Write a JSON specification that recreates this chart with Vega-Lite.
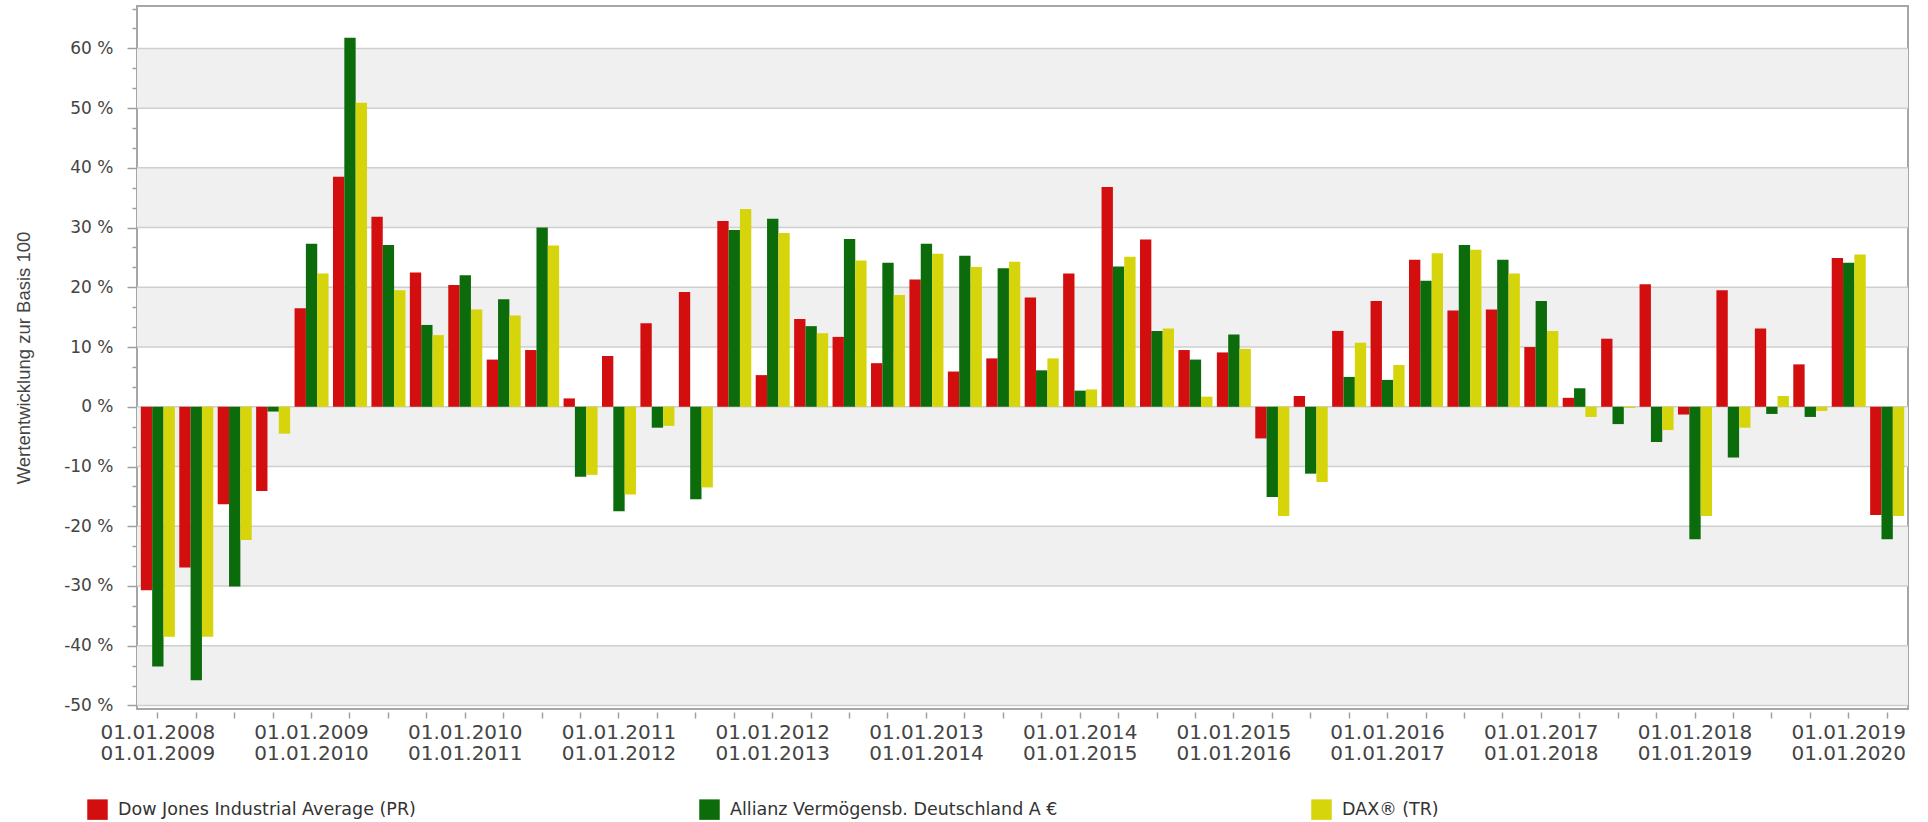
{
  "$schema": "https://vega.github.io/schema/vega-lite/v6.json",
  "width": 1771,
  "height": 703,
  "autosize": {"type": "none"},
  "padding": {"left": 137, "top": 6, "right": 20, "bottom": 113},
  "background": "white",
  "config": {
    "view": {"stroke": "#a6a6a6", "strokeWidth": 2},
    "font": "DejaVu Sans"
  },
  "datasets": {
    "bands": [
      {"lo": 50, "hi": 60}, {"lo": 30, "hi": 40}, {"lo": 10, "hi": 20},
      {"lo": -10, "hi": 0}, {"lo": -30, "hi": -20}, {"lo": -50, "hi": -40}
    ],
    "grid": [
      {"g": -50}, {"g": -40}, {"g": -30}, {"g": -20}, {"g": -10}, {"g": 0},
      {"g": 10}, {"g": 20}, {"g": 30}, {"g": 40}, {"g": 50}, {"g": 60}
    ],
    "perf": [
      {"p": "01.01.2008|01.01.2009", "s": "Dow Jones Industrial Average (PR)", "v": -30.7},
      {"p": "01.01.2008|01.01.2009", "s": "Allianz Vermögensb. Deutschland A €", "v": -43.5},
      {"p": "01.01.2008|01.01.2009", "s": "DAX® (TR)", "v": -38.5},
      {"p": "01.04.2008|01.04.2009", "s": "Dow Jones Industrial Average (PR)", "v": -26.9},
      {"p": "01.04.2008|01.04.2009", "s": "Allianz Vermögensb. Deutschland A €", "v": -45.8},
      {"p": "01.04.2008|01.04.2009", "s": "DAX® (TR)", "v": -38.5},
      {"p": "01.07.2008|01.07.2009", "s": "Dow Jones Industrial Average (PR)", "v": -16.3},
      {"p": "01.07.2008|01.07.2009", "s": "Allianz Vermögensb. Deutschland A €", "v": -30.1},
      {"p": "01.07.2008|01.07.2009", "s": "DAX® (TR)", "v": -22.3},
      {"p": "01.10.2008|01.10.2009", "s": "Dow Jones Industrial Average (PR)", "v": -14.1},
      {"p": "01.10.2008|01.10.2009", "s": "Allianz Vermögensb. Deutschland A €", "v": -0.8},
      {"p": "01.10.2008|01.10.2009", "s": "DAX® (TR)", "v": -4.5},
      {"p": "01.01.2009|01.01.2010", "s": "Dow Jones Industrial Average (PR)", "v": 16.5},
      {"p": "01.01.2009|01.01.2010", "s": "Allianz Vermögensb. Deutschland A €", "v": 27.3},
      {"p": "01.01.2009|01.01.2010", "s": "DAX® (TR)", "v": 22.3},
      {"p": "01.04.2009|01.04.2010", "s": "Dow Jones Industrial Average (PR)", "v": 38.5},
      {"p": "01.04.2009|01.04.2010", "s": "Allianz Vermögensb. Deutschland A €", "v": 61.8},
      {"p": "01.04.2009|01.04.2010", "s": "DAX® (TR)", "v": 50.9},
      {"p": "01.07.2009|01.07.2010", "s": "Dow Jones Industrial Average (PR)", "v": 31.8},
      {"p": "01.07.2009|01.07.2010", "s": "Allianz Vermögensb. Deutschland A €", "v": 27.1},
      {"p": "01.07.2009|01.07.2010", "s": "DAX® (TR)", "v": 19.5},
      {"p": "01.10.2009|01.10.2010", "s": "Dow Jones Industrial Average (PR)", "v": 22.5},
      {"p": "01.10.2009|01.10.2010", "s": "Allianz Vermögensb. Deutschland A €", "v": 13.7},
      {"p": "01.10.2009|01.10.2010", "s": "DAX® (TR)", "v": 12.0},
      {"p": "01.01.2010|01.01.2011", "s": "Dow Jones Industrial Average (PR)", "v": 20.4},
      {"p": "01.01.2010|01.01.2011", "s": "Allianz Vermögensb. Deutschland A €", "v": 22.0},
      {"p": "01.01.2010|01.01.2011", "s": "DAX® (TR)", "v": 16.3},
      {"p": "01.04.2010|01.04.2011", "s": "Dow Jones Industrial Average (PR)", "v": 7.9},
      {"p": "01.04.2010|01.04.2011", "s": "Allianz Vermögensb. Deutschland A €", "v": 18.0},
      {"p": "01.04.2010|01.04.2011", "s": "DAX® (TR)", "v": 15.3},
      {"p": "01.07.2010|01.07.2011", "s": "Dow Jones Industrial Average (PR)", "v": 9.5},
      {"p": "01.07.2010|01.07.2011", "s": "Allianz Vermögensb. Deutschland A €", "v": 30.0},
      {"p": "01.07.2010|01.07.2011", "s": "DAX® (TR)", "v": 27.0},
      {"p": "01.10.2010|01.10.2011", "s": "Dow Jones Industrial Average (PR)", "v": 1.4},
      {"p": "01.10.2010|01.10.2011", "s": "Allianz Vermögensb. Deutschland A €", "v": -11.7},
      {"p": "01.10.2010|01.10.2011", "s": "DAX® (TR)", "v": -11.4},
      {"p": "01.01.2011|01.01.2012", "s": "Dow Jones Industrial Average (PR)", "v": 8.5},
      {"p": "01.01.2011|01.01.2012", "s": "Allianz Vermögensb. Deutschland A €", "v": -17.5},
      {"p": "01.01.2011|01.01.2012", "s": "DAX® (TR)", "v": -14.7},
      {"p": "01.04.2011|01.04.2012", "s": "Dow Jones Industrial Average (PR)", "v": 14.0},
      {"p": "01.04.2011|01.04.2012", "s": "Allianz Vermögensb. Deutschland A €", "v": -3.5},
      {"p": "01.04.2011|01.04.2012", "s": "DAX® (TR)", "v": -3.2},
      {"p": "01.07.2011|01.07.2012", "s": "Dow Jones Industrial Average (PR)", "v": 19.2},
      {"p": "01.07.2011|01.07.2012", "s": "Allianz Vermögensb. Deutschland A €", "v": -15.5},
      {"p": "01.07.2011|01.07.2012", "s": "DAX® (TR)", "v": -13.5},
      {"p": "01.10.2011|01.10.2012", "s": "Dow Jones Industrial Average (PR)", "v": 31.1},
      {"p": "01.10.2011|01.10.2012", "s": "Allianz Vermögensb. Deutschland A €", "v": 29.6},
      {"p": "01.10.2011|01.10.2012", "s": "DAX® (TR)", "v": 33.1},
      {"p": "01.01.2012|01.01.2013", "s": "Dow Jones Industrial Average (PR)", "v": 5.3},
      {"p": "01.01.2012|01.01.2013", "s": "Allianz Vermögensb. Deutschland A €", "v": 31.5},
      {"p": "01.01.2012|01.01.2013", "s": "DAX® (TR)", "v": 29.1},
      {"p": "01.04.2012|01.04.2013", "s": "Dow Jones Industrial Average (PR)", "v": 14.7},
      {"p": "01.04.2012|01.04.2013", "s": "Allianz Vermögensb. Deutschland A €", "v": 13.5},
      {"p": "01.04.2012|01.04.2013", "s": "DAX® (TR)", "v": 12.3},
      {"p": "01.07.2012|01.07.2013", "s": "Dow Jones Industrial Average (PR)", "v": 11.7},
      {"p": "01.07.2012|01.07.2013", "s": "Allianz Vermögensb. Deutschland A €", "v": 28.1},
      {"p": "01.07.2012|01.07.2013", "s": "DAX® (TR)", "v": 24.5},
      {"p": "01.10.2012|01.10.2013", "s": "Dow Jones Industrial Average (PR)", "v": 7.3},
      {"p": "01.10.2012|01.10.2013", "s": "Allianz Vermögensb. Deutschland A €", "v": 24.1},
      {"p": "01.10.2012|01.10.2013", "s": "DAX® (TR)", "v": 18.7},
      {"p": "01.01.2013|01.01.2014", "s": "Dow Jones Industrial Average (PR)", "v": 21.3},
      {"p": "01.01.2013|01.01.2014", "s": "Allianz Vermögensb. Deutschland A €", "v": 27.3},
      {"p": "01.01.2013|01.01.2014", "s": "DAX® (TR)", "v": 25.6},
      {"p": "01.04.2013|01.04.2014", "s": "Dow Jones Industrial Average (PR)", "v": 5.9},
      {"p": "01.04.2013|01.04.2014", "s": "Allianz Vermögensb. Deutschland A €", "v": 25.3},
      {"p": "01.04.2013|01.04.2014", "s": "DAX® (TR)", "v": 23.4},
      {"p": "01.07.2013|01.07.2014", "s": "Dow Jones Industrial Average (PR)", "v": 8.1},
      {"p": "01.07.2013|01.07.2014", "s": "Allianz Vermögensb. Deutschland A €", "v": 23.2},
      {"p": "01.07.2013|01.07.2014", "s": "DAX® (TR)", "v": 24.3},
      {"p": "01.10.2013|01.10.2014", "s": "Dow Jones Industrial Average (PR)", "v": 18.3},
      {"p": "01.10.2013|01.10.2014", "s": "Allianz Vermögensb. Deutschland A €", "v": 6.1},
      {"p": "01.10.2013|01.10.2014", "s": "DAX® (TR)", "v": 8.1},
      {"p": "01.01.2014|01.01.2015", "s": "Dow Jones Industrial Average (PR)", "v": 22.3},
      {"p": "01.01.2014|01.01.2015", "s": "Allianz Vermögensb. Deutschland A €", "v": 2.7},
      {"p": "01.01.2014|01.01.2015", "s": "DAX® (TR)", "v": 2.9},
      {"p": "01.04.2014|01.04.2015", "s": "Dow Jones Industrial Average (PR)", "v": 36.8},
      {"p": "01.04.2014|01.04.2015", "s": "Allianz Vermögensb. Deutschland A €", "v": 23.5},
      {"p": "01.04.2014|01.04.2015", "s": "DAX® (TR)", "v": 25.1},
      {"p": "01.07.2014|01.07.2015", "s": "Dow Jones Industrial Average (PR)", "v": 28.0},
      {"p": "01.07.2014|01.07.2015", "s": "Allianz Vermögensb. Deutschland A €", "v": 12.7},
      {"p": "01.07.2014|01.07.2015", "s": "DAX® (TR)", "v": 13.1},
      {"p": "01.10.2014|01.10.2015", "s": "Dow Jones Industrial Average (PR)", "v": 9.5},
      {"p": "01.10.2014|01.10.2015", "s": "Allianz Vermögensb. Deutschland A €", "v": 7.9},
      {"p": "01.10.2014|01.10.2015", "s": "DAX® (TR)", "v": 1.7},
      {"p": "01.01.2015|01.01.2016", "s": "Dow Jones Industrial Average (PR)", "v": 9.1},
      {"p": "01.01.2015|01.01.2016", "s": "Allianz Vermögensb. Deutschland A €", "v": 12.1},
      {"p": "01.01.2015|01.01.2016", "s": "DAX® (TR)", "v": 9.7},
      {"p": "01.04.2015|01.04.2016", "s": "Dow Jones Industrial Average (PR)", "v": -5.3},
      {"p": "01.04.2015|01.04.2016", "s": "Allianz Vermögensb. Deutschland A €", "v": -15.1},
      {"p": "01.04.2015|01.04.2016", "s": "DAX® (TR)", "v": -18.3},
      {"p": "01.07.2015|01.07.2016", "s": "Dow Jones Industrial Average (PR)", "v": 1.8},
      {"p": "01.07.2015|01.07.2016", "s": "Allianz Vermögensb. Deutschland A €", "v": -11.2},
      {"p": "01.07.2015|01.07.2016", "s": "DAX® (TR)", "v": -12.6},
      {"p": "01.10.2015|01.10.2016", "s": "Dow Jones Industrial Average (PR)", "v": 12.7},
      {"p": "01.10.2015|01.10.2016", "s": "Allianz Vermögensb. Deutschland A €", "v": 5.0},
      {"p": "01.10.2015|01.10.2016", "s": "DAX® (TR)", "v": 10.7},
      {"p": "01.01.2016|01.01.2017", "s": "Dow Jones Industrial Average (PR)", "v": 17.7},
      {"p": "01.01.2016|01.01.2017", "s": "Allianz Vermögensb. Deutschland A €", "v": 4.5},
      {"p": "01.01.2016|01.01.2017", "s": "DAX® (TR)", "v": 7.0},
      {"p": "01.04.2016|01.04.2017", "s": "Dow Jones Industrial Average (PR)", "v": 24.6},
      {"p": "01.04.2016|01.04.2017", "s": "Allianz Vermögensb. Deutschland A €", "v": 21.1},
      {"p": "01.04.2016|01.04.2017", "s": "DAX® (TR)", "v": 25.7},
      {"p": "01.07.2016|01.07.2017", "s": "Dow Jones Industrial Average (PR)", "v": 16.1},
      {"p": "01.07.2016|01.07.2017", "s": "Allianz Vermögensb. Deutschland A €", "v": 27.1},
      {"p": "01.07.2016|01.07.2017", "s": "DAX® (TR)", "v": 26.3},
      {"p": "01.10.2016|01.10.2017", "s": "Dow Jones Industrial Average (PR)", "v": 16.3},
      {"p": "01.10.2016|01.10.2017", "s": "Allianz Vermögensb. Deutschland A €", "v": 24.6},
      {"p": "01.10.2016|01.10.2017", "s": "DAX® (TR)", "v": 22.3},
      {"p": "01.01.2017|01.01.2018", "s": "Dow Jones Industrial Average (PR)", "v": 10.0},
      {"p": "01.01.2017|01.01.2018", "s": "Allianz Vermögensb. Deutschland A €", "v": 17.7},
      {"p": "01.01.2017|01.01.2018", "s": "DAX® (TR)", "v": 12.7},
      {"p": "01.04.2017|01.04.2018", "s": "Dow Jones Industrial Average (PR)", "v": 1.5},
      {"p": "01.04.2017|01.04.2018", "s": "Allianz Vermögensb. Deutschland A €", "v": 3.1},
      {"p": "01.04.2017|01.04.2018", "s": "DAX® (TR)", "v": -1.7},
      {"p": "01.07.2017|01.07.2018", "s": "Dow Jones Industrial Average (PR)", "v": 11.4},
      {"p": "01.07.2017|01.07.2018", "s": "Allianz Vermögensb. Deutschland A €", "v": -2.9},
      {"p": "01.07.2017|01.07.2018", "s": "DAX® (TR)", "v": -0.2},
      {"p": "01.10.2017|01.10.2018", "s": "Dow Jones Industrial Average (PR)", "v": 20.5},
      {"p": "01.10.2017|01.10.2018", "s": "Allianz Vermögensb. Deutschland A €", "v": -5.9},
      {"p": "01.10.2017|01.10.2018", "s": "DAX® (TR)", "v": -3.9},
      {"p": "01.01.2018|01.01.2019", "s": "Dow Jones Industrial Average (PR)", "v": -1.3},
      {"p": "01.01.2018|01.01.2019", "s": "Allianz Vermögensb. Deutschland A €", "v": -22.2},
      {"p": "01.01.2018|01.01.2019", "s": "DAX® (TR)", "v": -18.3},
      {"p": "01.04.2018|01.04.2019", "s": "Dow Jones Industrial Average (PR)", "v": 19.5},
      {"p": "01.04.2018|01.04.2019", "s": "Allianz Vermögensb. Deutschland A €", "v": -8.5},
      {"p": "01.04.2018|01.04.2019", "s": "DAX® (TR)", "v": -3.5},
      {"p": "01.07.2018|01.07.2019", "s": "Dow Jones Industrial Average (PR)", "v": 13.1},
      {"p": "01.07.2018|01.07.2019", "s": "Allianz Vermögensb. Deutschland A €", "v": -1.2},
      {"p": "01.07.2018|01.07.2019", "s": "DAX® (TR)", "v": 1.8},
      {"p": "01.10.2018|01.10.2019", "s": "Dow Jones Industrial Average (PR)", "v": 7.1},
      {"p": "01.10.2018|01.10.2019", "s": "Allianz Vermögensb. Deutschland A €", "v": -1.7},
      {"p": "01.10.2018|01.10.2019", "s": "DAX® (TR)", "v": -0.7},
      {"p": "01.01.2019|01.01.2020", "s": "Dow Jones Industrial Average (PR)", "v": 24.9},
      {"p": "01.01.2019|01.01.2020", "s": "Allianz Vermögensb. Deutschland A €", "v": 24.1},
      {"p": "01.01.2019|01.01.2020", "s": "DAX® (TR)", "v": 25.5},
      {"p": "01.04.2019|01.04.2020", "s": "Dow Jones Industrial Average (PR)", "v": -18.1},
      {"p": "01.04.2019|01.04.2020", "s": "Allianz Vermögensb. Deutschland A €", "v": -22.2},
      {"p": "01.04.2019|01.04.2020", "s": "DAX® (TR)", "v": -18.3}
    ]
  },
  "resolve": {"axis": {"y": "independent"}},
  "layer": [
    {
      "data": {"name": "bands"},
      "mark": {"type": "rect", "color": "#f0f0f0"},
      "encoding": {
        "y": {
          "field": "lo", "type": "quantitative",
          "scale": {"domain": [-50.6, 67.1], "nice": false, "zero": false},
          "axis": {
            "orient": "left",
            "values": [-46.667, -43.333, -36.667, -33.333, -26.667, -23.333, -16.667, -13.333, -6.667, -3.333, 3.333, 6.667, 13.333, 16.667, 23.333, 26.667, 33.333, 36.667, 43.333, 46.667, 53.333, 56.667, 63.333, 66.667],
            "labels": false, "grid": false, "domain": false, "title": null,
            "ticks": true, "tickSize": 5, "tickColor": "#a0a0a0", "tickWidth": 1.5
          }
        },
        "y2": {"field": "hi"}
      }
    },
    {
      "data": {"name": "grid"},
      "mark": {"type": "rule", "color": "#cfcfcf", "strokeWidth": 1.5},
      "encoding": {
        "y": {"field": "g", "type": "quantitative", "axis": null}
      }
    },
    {
      "data": {"name": "perf"},
      "mark": {"type": "bar"},
      "encoding": {
        "x": {
          "field": "p", "type": "nominal", "sort": null,
          "scale": {"paddingInner": 0.115, "paddingOuter": 0.1},
          "axis": {
            "title": null, "domain": false, "grid": false,
            "offset": 3, "tickSize": 6, "tickColor": "#a0a0a0", "tickWidth": 1.5,
            "labelAngle": 0, "labelFont": "DejaVu Sans", "labelFontSize": 20,
            "labelColor": "#444444", "labelLineHeight": 21, "labelPadding": 4,
            "labelOverlap": false, "labelBaseline": "top",
            "labelExpr": "substring(datum.value, 0, 5) == '01.01' ? split(datum.value, '|') : ''"
          }
        },
        "xOffset": {
          "field": "s", "type": "nominal",
          "sort": ["Dow Jones Industrial Average (PR)", "Allianz Vermögensb. Deutschland A €", "DAX® (TR)"],
          "scale": {"paddingInner": 0, "paddingOuter": 0}
        },
        "y": {
          "field": "v", "type": "quantitative",
          "axis": {
            "orient": "left",
            "values": [-50, -40, -30, -20, -10, 0, 10, 20, 30, 40, 50, 60],
            "labelExpr": "datum.value + ' %'",
            "grid": false, "domain": false,
            "tickSize": 10, "tickColor": "#a0a0a0", "tickWidth": 1.5,
            "labelPadding": 14, "labelFont": "DejaVu Sans", "labelFontSize": 17,
            "labelColor": "#444444",
            "title": "Wertentwicklung zur Basis 100",
            "titleFont": "Liberation Sans", "titleFontSize": 18.5,
            "titleFontWeight": "normal", "titleColor": "#444444", "titlePadding": 30
          }
        },
        "color": {
          "field": "s", "type": "nominal",
          "sort": ["Dow Jones Industrial Average (PR)", "Allianz Vermögensb. Deutschland A €", "DAX® (TR)"],
          "scale": {
            "domain": ["Dow Jones Industrial Average (PR)", "Allianz Vermögensb. Deutschland A €", "DAX® (TR)"],
            "range": ["#d20e0e", "#0c6c0c", "#d6d40a"]
          },
          "legend": {
            "orient": "none", "legendX": -50, "legendY": 793,
            "direction": "horizontal", "columns": 3, "gridAlign": "all",
            "columnPadding": 253, "title": null,
            "symbolType": "square", "symbolSize": 420, "symbolStrokeWidth": 0,
            "labelFont": "DejaVu Sans", "labelFontSize": 17.5, "labelColor": "#333333",
            "labelOffset": 10, "labelLimit": 0,
            "encode": {
              "symbols": {
                "update": {
                  "fill": {"signal": "datum.value == 'Dow Jones Industrial Average (PR)' ? '#ff0000' : datum.value == 'DAX® (TR)' ? '#ffff00' : '#008000'"},
                  "stroke": {"value": "transparent"}
                }
              }
            }
          }
        }
      }
    }
  ]
}
